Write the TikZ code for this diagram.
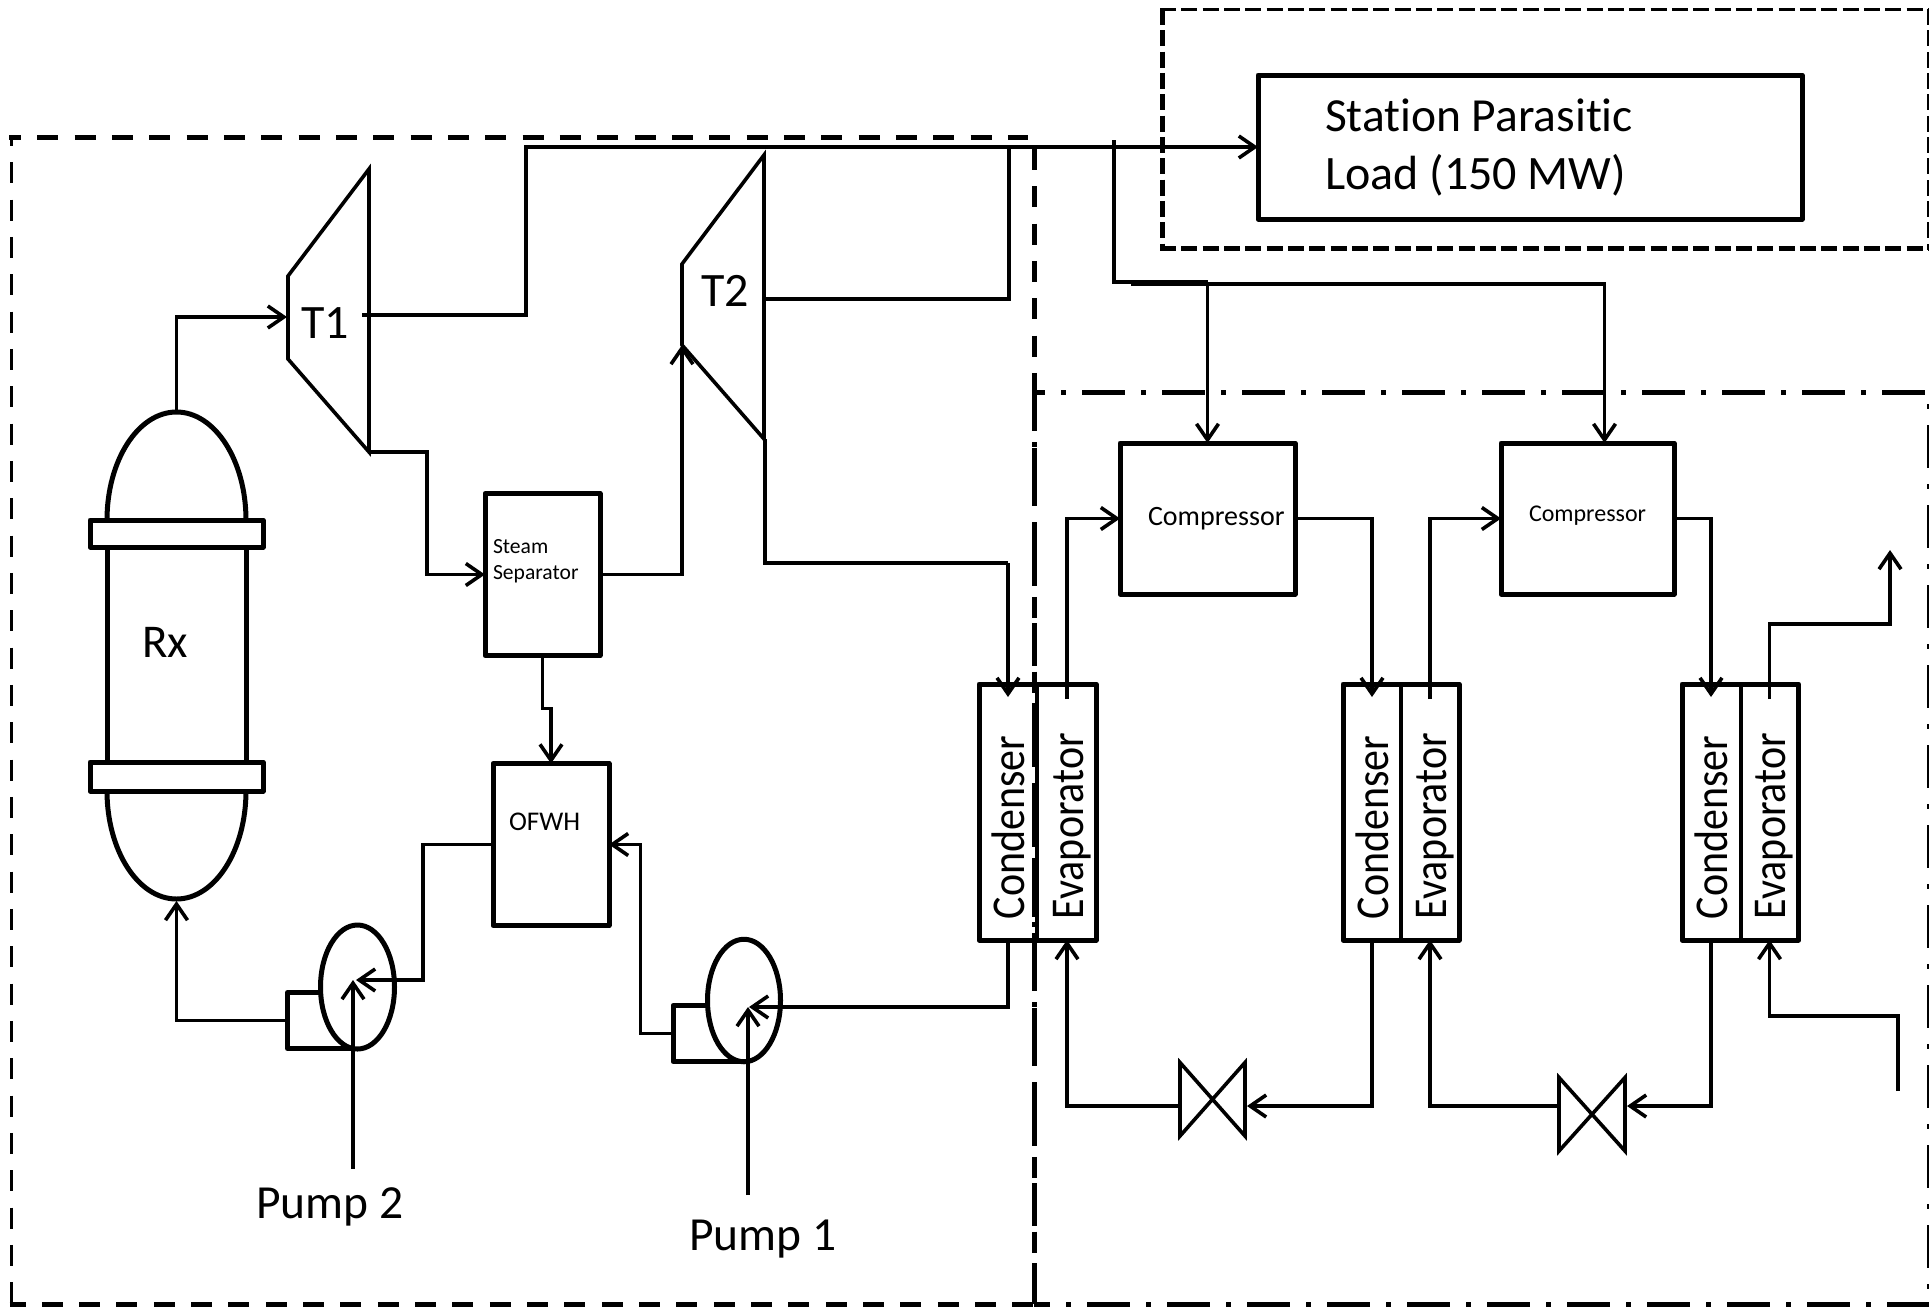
\documentclass[tikz,border=0pt]{standalone}
\usepackage{fontspec}
\setmainfont[Ligatures=NoCommon]{Carlito}
\usetikzlibrary{arrows.meta,calc,shapes.geometric}
\newcommand{\fs}[1]{\fontsize{#1}{#1}\selectfont}
\newcommand{\hxunit}[4]{%
  % #1 suffix, #2 condenser centre x, #3 evaporator centre x, #4 mid x
  \node[box,minimum width={#3-#2+58},minimum height=256pt] (hx#1) at ({(#2+#3)/2},812) {};
  \node[ghost,minimum width=58pt,minimum height=256pt] (c#1) at (#2,812) {};
  \node[ghost,minimum width=58pt,minimum height=256pt] (e#1) at (#3,812) {};
  \draw[wire] (#4,684) -- (#4,940);
  \node[vtext] (lc#1) at (#2+16,919) {\scalebox{1}[1.12]{Condenser}};
  \node[vtext] (le#1) at (#3+16,919) {\scalebox{1}[1.12]{Evaporator}};
}
\tikzset{
  box/.style={draw=black,line width=5pt,line join=round,inner sep=0pt,outer sep=0pt,fill=none},
  ghost/.style={inner sep=0pt,outer sep=0pt},
  wire/.style={draw=black,line width=3.6pt,line join=miter},
  flow/.style={wire,-{Straight Barb[length=16pt,width=22pt,line width=3.6pt]}},
  shape3/.style={draw=black,line width=3.6pt,line join=miter},
  pumpbody/.style={draw=black,line width=5pt,fill=white,ellipse,inner sep=0pt,outer sep=0pt},
  lbl/.style={anchor=base west,inner sep=0pt,outer sep=0pt},
  vtext/.style={rotate=90,anchor=base west,inner sep=0pt,outer sep=0pt,font=\fs{42}},
  dashA/.style={draw=black,dash pattern=on 21pt off 16.33pt},
  dashB/.style={draw=black,dash pattern=on 16pt off 5.33pt},
  dashC/.style={draw=black,dash pattern=on 43pt off 16pt on 5pt off 16pt},
}
\begin{document}
\begin{tikzpicture}[x=1pt,y=-1pt]
\fill[white] (0,0) rectangle (1929,1306);
\clip (0,0) rectangle (1929,1306);

% ---- region borders
\draw[dashA,line width=5pt,dash phase=9pt] (9,137) -- (1028,137);
\draw[dashA,line width=3pt,dash phase=10pt] (11,135) -- (11,1304);
\draw[dashA,line width=5pt,dash phase=5pt] (9.5,1304.5) -- (1034,1304.5);
\draw[dashA,line width=5pt] (1034,149) -- (1034,1304);
\draw[dashB,line width=3pt] (1160,10) -- (1928,10);
\draw[dashB,line width=3pt] (1928,9) -- (1928,250);
\draw[dashB,line width=5pt] (1162,9) -- (1162,249);
\draw[dashB,line width=5pt] (1160,248.5) -- (1929,248.5);
\draw[dashC,line width=5pt,dash phase=32pt] (1034,392.7) -- (1925,392.7);
\draw[dashC,line width=5pt,dash phase=9.7pt] (1034,392.7) -- (1034,1304);
\draw[dashC,line width=5pt,dash phase=27pt] (1034,1304.5) -- (1929,1304.5);
\draw[dashC,line width=3pt,dash phase=47pt] (1928.5,392) -- (1928.5,1306);

% ---- reactor
\draw[box] (107,520) .. controls (107,460.6) and (138,412) .. (176.5,412) .. controls (215,412) and (246,460.6) .. (246,520);
\draw[box] (107,791) .. controls (107,850.4) and (138,899) .. (176.5,899) .. controls (215,899) and (246,850.4) .. (246,791);
\node[box,minimum width=139pt,minimum height=244pt] (rx) at (176.5,655) {};
\node[box,fill=white,minimum width=173pt,minimum height=27pt] (flangeT) at (176.5,533.5) {};
\node[box,fill=white,minimum width=173pt,minimum height=29pt] (flangeB) at (176.5,776.5) {};
\node[lbl,font=\fs{47}] (rxlabel) at (142,657) {Rx};
\coordinate (rxtop) at (176.5,412);
\coordinate (rxbot) at (176.5,901);

% ---- turbines
\draw[shape3] (288,276) -- (369,169) -- (369,452) -- (288,359) -- cycle;
\draw[shape3] (682,264) -- (764,155) -- (764,439) -- (682,345) -- cycle;
\node[lbl,font=\fs{48}] (t1label) at (301,338) {T1};
\node[lbl,font=\fs{48}] (t2label) at (701,306) {T2};
\coordinate (t1in) at (287,317);
\coordinate (t1out) at (362,315);
\coordinate (t1bot) at (369,452);
\coordinate (t2in) at (682,345);
\coordinate (t2out) at (765,299);
\coordinate (t2bot) at (765,439);

% ---- boxes
\node[box,minimum width=544pt,minimum height=144pt] (station) at (1530,147) {};
\node[lbl,font=\fs{47.5}] (stationA) at (1325,131) {Station Parasitic};
\node[lbl,font=\fs{48}] (stationB) at (1325,189) {Load (150 MW)};
\node[box,minimum width=115pt,minimum height=162pt] (sep) at (542.5,574.5) {};
\node[lbl,font=\fs{21.6}] (sepA) at (493,553) {Steam};
\node[lbl,font=\fs{21.6}] (sepB) at (493,579.5) {Separator};
\node[box,minimum width=116pt,minimum height=162pt] (ofwh) at (551,844.5) {};
\node[lbl,font=\fs{27}] (ofwhlabel) at (509,830) {OFWH};
\node[box,minimum width=175pt,minimum height=151pt] (compA) at (1207.5,518.5) {};
\node[lbl,font=\fs{28}] (compAl) at (1148,525) {Compressor};
\node[box,minimum width=173pt,minimum height=151pt] (compB) at (1587.5,518.5) {};
\node[lbl,font=\fs{24}] (compBl) at (1529,521) {Compressor};

% ---- heat exchangers
\hxunit{A}{1008}{1067}{1037}
\hxunit{B}{1372}{1430}{1401}
\hxunit{C}{1711}{1769.5}{1741}

% ---- pumps
\node[box,minimum width=72pt,minimum height=56pt] (pAbox) at (709,1033.5) {};
\node[pumpbody,minimum width=73pt,minimum height=122.5pt] (pA) at (744,1000.5) {};
\node[box,minimum width=66pt,minimum height=56pt] (pBbox) at (320.5,1020.5) {};
\node[pumpbody,minimum width=74pt,minimum height=124pt] (pB) at (357.5,987) {};
\coordinate (pAin) at (749,1007);
\coordinate (pAdrive) at (748,1007);
\coordinate (pBin) at (356,980);
\coordinate (pBdrive) at (353,980);
\node[lbl,font=\fs{47.5}] (pumpAl) at (689,1250) {Pump 1};
\node[lbl,font=\fs{47.5}] (pumpBl) at (256,1218) {Pump 2};
\coordinate (pAfoot) at (748,1195);
\coordinate (pBfoot) at (353,1168.5);

% ---- valves
\draw[shape3] (1180,1062.5) -- (1180,1136) -- (1245,1062.5) -- (1245,1136) -- cycle;
\draw[shape3] (1559,1077.5) -- (1559,1151) -- (1625,1077.5) -- (1625,1151) -- cycle;
\coordinate (vAl) at (1180,1106);
\coordinate (vAr) at (1247,1106);
\coordinate (vBl) at (1559,1106);
\coordinate (vBr) at (1627,1106);

% ---- bus coordinates
\coordinate (busA) at (526,147);
\coordinate (busB) at (1009,147);
\coordinate (busC) at (1114,140);
\coordinate (brA) at (1207.5,282);
\coordinate (brB) at (1131,284);
\coordinate (bendA) at (1008,563);
\coordinate (extin) at (1898,1091);
\coordinate (extout) at (1890,550);

% ---- connectors
\draw[flow] (rxtop) |- (t1in);
\draw[flow,line width=4pt] (t1out) -| (busA) -- (station.west);
\draw[wire] (t2out) -| (busB);
\draw[wire,line width=4pt] (busC) |- (brA);
\draw[flow] (brA) -- (compA.north);
\draw[flow] (brB) -| ($(compB.north)+(17,0)$);
\draw[flow] (t1bot) -- ++(58,0) |- (sep.west);
\draw[flow] (sep.east) -| (t2in);
\draw[flow] (sep.south) -- ++(0,53) -| (ofwh.north);
\draw[wire] (t2bot) |- (bendA);
\draw[flow] (bendA) -- ($(cA.north)+(0,13)$);
\draw[flow] (cA.south) |- (pAin);
\draw[flow] (pAfoot) -- (pAdrive);
\draw[flow] (pBfoot) -- (pBdrive);
\draw[flow] (pAbox.west) -- ++(-32.5,0) |- (ofwh.east);
\draw[flow] (ofwh.west) -- ++(-70,0) |- (pBin);
\draw[flow] (pBbox.west) -| (rxbot);
\draw[flow] ($(eA.north)+(0,15)$) |- (compA.west);
\draw[flow] (compA.east) -| ($(cB.north)+(0,13)$);
\draw[flow] ($(eB.north)+(0,15)$) |- (compB.west);
\draw[flow] (compB.east) -| ($(cC.north)+(0,13)$);
\draw[flow] ($(eC.north)+(0,15)$) -- ++(0,-75) -| (extout);
\draw[flow] (extin) -- ++(0,-75) -| (eC.south);
\draw[flow] (cB.south) |- (vAr);
\draw[flow] (vAl) -| (eA.south);
\draw[flow] (cC.south) |- (vBr);
\draw[flow] (vBl) -| (eB.south);
\end{tikzpicture}
\end{document}
